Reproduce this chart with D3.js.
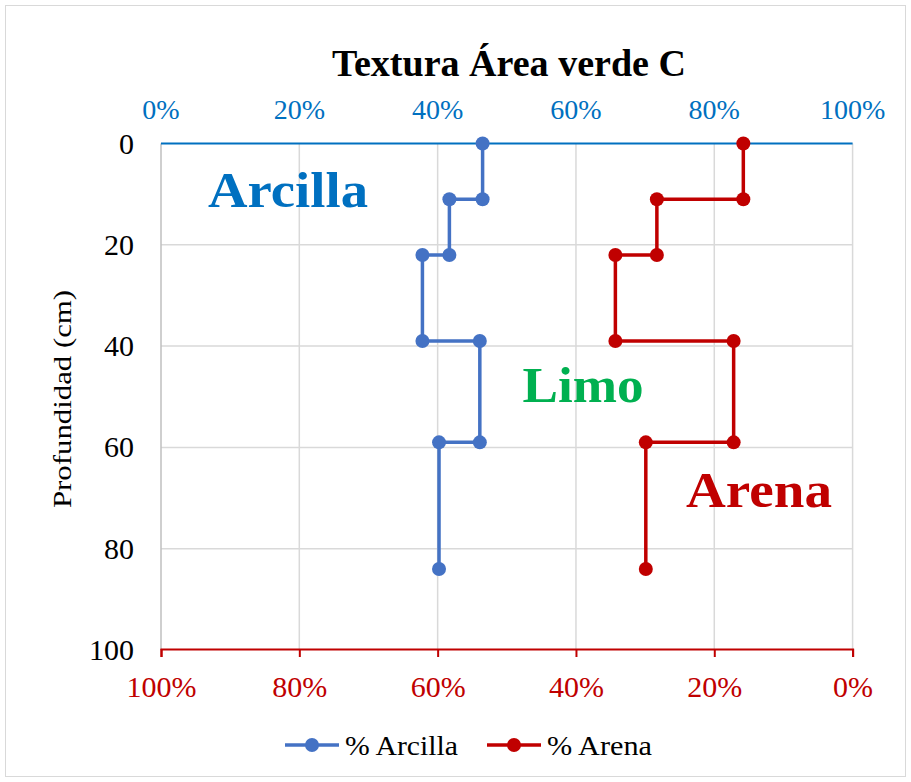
<!DOCTYPE html>
<html>
<head>
<meta charset="utf-8">
<script src="https://cdn.jsdelivr.net/npm/d3@7"></script>
<style>
  html, body { margin: 0; padding: 0; background: #fff; }
  svg { display: block; }
  text { font-family: "Liberation Serif", "DejaVu Serif", serif; }
</style>
</head>
<body>
<svg id="chart" width="911" height="782"></svg>
<script>
// Soil texture profile: depth (cm) against % clay (top axis) and % sand (bottom axis, reversed)
const depths  = [0, 11, 11, 22, 22, 39, 39, 59, 59, 84];
const arcilla = [46.5, 46.5, 41.7, 41.7, 37.8, 37.8, 46.1, 46.1, 40.2, 40.2];
const arena   = [15.8, 15.8, 28.3, 28.3, 34.3, 34.3, 17.2, 17.2, 29.9, 29.9];

const pctTicks   = [0, 20, 40, 60, 80, 100];
const depthTicks = [0, 20, 40, 60, 80, 100];

const title = "Textura Área verde C";
const yTitle = "Profundidad (cm)";
const seriesNames = ["% Arcilla", "% Arena"];

const colArcilla = "#4472C4";
const colArena = "#C00000";
const colTopAxis = "#0070C0";
const colLimo = "#00B050";

const svg = d3.select("#chart");
const plotL = 161, plotR = 852.6, plotT = 143.5, plotB = 650;

// outer frame
svg.append("rect")
  .attr("x", 5.5).attr("y", 5.5).attr("width", 900).attr("height", 771)
  .attr("fill", "#fff").attr("stroke", "#D9D9D9").attr("stroke-width", 1);

const xTop = d3.scaleLinear().domain([0, 100]).range([plotL, plotR]);
const xBot = d3.scaleLinear().domain([100, 0]).range([plotL, plotR]);
const y = d3.scaleLinear().domain([0, 100]).range([plotT, plotB]);

// grid
const grid = svg.append("g");
grid.selectAll("line.v").data(pctTicks.slice(1)).join("line")
  .attr("x1", d => xTop(d)).attr("x2", d => xTop(d))
  .attr("y1", plotT).attr("y2", plotB)
  .attr("stroke", "#D9D9D9").attr("stroke-width", 1.5);
grid.selectAll("line.h").data(depthTicks.slice(1, -1)).join("line")
  .attr("x1", plotL).attr("x2", plotR)
  .attr("y1", d => y(d)).attr("y2", d => y(d))
  .attr("stroke", "#D9D9D9").attr("stroke-width", 1.5);

// left (depth) axis line
svg.append("line")
  .attr("x1", plotL).attr("x2", plotL).attr("y1", plotT).attr("y2", plotB)
  .attr("stroke", "#BFBFBF").attr("stroke-width", 1.5);

// depth tick labels
svg.append("g").selectAll("text").data(depthTicks).join("text")
  .attr("x", 134).attr("y", d => y(d) + 10)
  .attr("text-anchor", "end")
  .attr("font-size", 30).attr("fill", "#000")
  .text(d => d);

// top axis (% clay)
svg.append("line")
  .attr("x1", plotL).attr("x2", plotR).attr("y1", plotT).attr("y2", plotT)
  .attr("stroke", colTopAxis).attr("stroke-width", 2);
svg.append("g").selectAll("text").data(pctTicks).join("text")
  .attr("x", d => xTop(d)).attr("y", 119)
  .attr("text-anchor", "middle")
  .attr("font-size", 28).attr("fill", colTopAxis)
  .text(d => d + "%");

// bottom axis (% sand, reversed)
const botAxis = d3.axisBottom(xBot).tickValues(pctTicks).tickSize(8).tickFormat(d => d + "%");
const gb = svg.append("g").attr("transform", `translate(0,${plotB - 1})`).call(botAxis);
gb.select(".domain").attr("stroke", colArena).attr("stroke-width", 2);
gb.selectAll(".tick line").attr("stroke", colArena).attr("stroke-width", 2);
gb.selectAll(".tick text")
  .attr("fill", colArena).attr("font-size", 30)
  .attr("font-family", "Liberation Serif, DejaVu Serif, serif")
  .attr("dy", null).attr("y", 48);

// series
const pts = (xs, sc) => xs.map((v, i) => [sc(v), y(depths[i])]);
const line = d3.line();

function drawSeries(values, sc, color) {
  const p = pts(values, sc);
  svg.append("path").attr("d", line(p))
    .attr("fill", "none").attr("stroke", color).attr("stroke-width", 3.5)
    .attr("stroke-linejoin", "round");
  svg.append("g").selectAll("circle").data(p).join("circle")
    .attr("cx", d => d[0]).attr("cy", d => d[1]).attr("r", 7)
    .attr("fill", color);
}
drawSeries(arcilla, xTop, colArcilla);
drawSeries(arena, xBot, colArena);

// title
svg.append("text")
  .attr("x", 509).attr("y", 76).attr("text-anchor", "middle")
  .attr("font-size", 38).attr("font-weight", "bold").attr("fill", "#000")
  .attr("textLength", 354).attr("lengthAdjust", "spacingAndGlyphs")
  .text(title);

// y-axis title
svg.append("text")
  .attr("transform", "translate(71,399) rotate(-90)")
  .attr("text-anchor", "middle")
  .attr("font-size", 26).attr("fill", "#000")
  .attr("textLength", 218).attr("lengthAdjust", "spacingAndGlyphs")
  .text(yTitle);

// region labels
const regionLabels = [
  { t: "Arcilla", x: 288, y: 207, c: colTopAxis, w: 160 },
  { t: "Limo",    x: 583, y: 402, c: colLimo,    w: 121 },
  { t: "Arena",   x: 759, y: 507, c: colArena,   w: 146 }
];
svg.append("g").selectAll("text").data(regionLabels).join("text")
  .attr("x", d => d.x).attr("y", d => d.y).attr("text-anchor", "middle")
  .attr("font-size", 50).attr("font-weight", "bold")
  .attr("fill", d => d.c)
  .attr("textLength", d => d.w).attr("lengthAdjust", "spacingAndGlyphs")
  .text(d => d.t);

// legend
const legend = [
  { name: seriesNames[0], c: colArcilla, x: 285, w: 113 },
  { name: seriesNames[1], c: colArena,   x: 487, w: 105 }
];
const lg = svg.append("g").selectAll("g").data(legend).join("g")
  .attr("transform", d => `translate(${d.x},745)`);
lg.append("line").attr("x1", 0).attr("x2", 54).attr("y1", 0).attr("y2", 0)
  .attr("stroke", d => d.c).attr("stroke-width", 3.5);
lg.append("circle").attr("cx", 27).attr("cy", 0).attr("r", 7).attr("fill", d => d.c);
lg.append("text").attr("x", 60).attr("y", 10)
  .attr("font-size", 28).attr("fill", "#000")
  .attr("textLength", d => d.w).attr("lengthAdjust", "spacingAndGlyphs")
  .text(d => d.name);
</script>
</body>
</html>
